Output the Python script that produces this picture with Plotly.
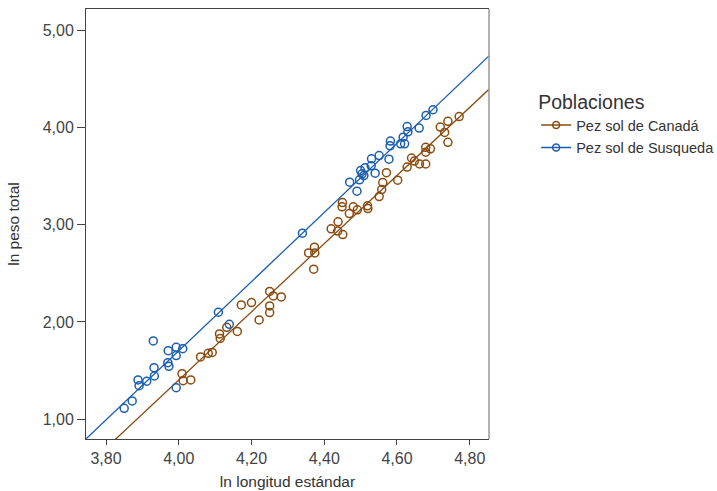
import numpy as np
import plotly.graph_objects as go

# ---- data ----
canada_x = [4.009, 4.012, 4.033, 4.060, 4.081, 4.092, 4.112, 4.114, 4.132, 4.161,
            4.172, 4.200, 4.221, 4.250, 4.260, 4.282, 4.250, 4.250, 4.357, 4.373,
            4.374, 4.371, 4.419, 4.438, 4.437, 4.451, 4.450, 4.449, 4.480, 4.469,
            4.491, 4.519, 4.520, 4.551, 4.558, 4.561, 4.571, 4.602, 4.628, 4.640,
            4.648, 4.662, 4.679, 4.679, 4.679, 4.692, 4.719, 4.731, 4.740, 4.740,
            4.771]
canada_y = [1.467, 1.395, 1.402, 1.639, 1.677, 1.686, 1.876, 1.830, 1.945, 1.902,
            2.175, 2.199, 2.021, 2.314, 2.268, 2.258, 2.165, 2.096, 2.711, 2.770,
            2.711, 2.543, 2.959, 3.031, 2.936, 2.900, 3.230, 3.186, 3.186, 3.117,
            3.155, 3.196, 3.168, 3.292, 3.364, 3.436, 3.538, 3.461, 3.596, 3.689,
            3.657, 3.627, 3.627, 3.749, 3.799, 3.784, 4.008, 3.952, 4.067, 3.851,
            4.116]

susqueda_x = [3.850, 3.872, 3.888, 3.891, 3.912, 3.930, 3.932, 3.933, 3.970, 3.973,
              3.971, 3.993, 3.993, 4.011, 3.993, 4.109, 4.139, 4.340, 4.470, 4.490,
              4.497, 4.500, 4.504, 4.509, 4.512, 4.529, 4.530, 4.540, 4.551, 4.578,
              4.581, 4.582, 4.610, 4.621, 4.617, 4.628, 4.630, 4.661, 4.680, 4.699]
susqueda_y = [1.110, 1.186, 1.402, 1.343, 1.389, 1.804, 1.529, 1.443, 1.580, 1.543,
              1.704, 1.739, 1.653, 1.725, 1.323, 2.100, 1.976, 2.914, 3.440, 3.347,
              3.464, 3.560, 3.526, 3.508, 3.588, 3.608, 3.680, 3.533, 3.714, 3.677,
              3.814, 3.863, 3.835, 3.835, 3.904, 4.013, 3.959, 3.997, 4.127, 4.186]

series_names = ["Pez sol de Canadá", "Pez sol de Susqueda"]
series_colors = ["#8a4b0f", "#1a5eb0"]

x_tick_vals = [3.8, 4.0, 4.2, 4.4, 4.6, 4.8]
y_tick_vals = [1, 2, 3, 4, 5]

X_RANGE = [3.745, 4.853]
Y_RANGE = [0.794, 5.224]

fig = go.Figure()

datasets = [(canada_x, canada_y), (susqueda_x, susqueda_y)]
legend_ids = ["legend", "legend2"]
for (xs, ys), name, color, lg in zip(datasets, series_names, series_colors, legend_ids):
    xs = np.array(xs)
    ys = np.array(ys)
    slope, intercept = np.polyfit(xs, ys, 1)
    lx = np.array(X_RANGE)
    ly = intercept + slope * lx
    # fit line
    fig.add_trace(go.Scatter(x=lx, y=ly, mode="lines",
                             line=dict(color=color, width=1.3),
                             showlegend=False, hoverinfo="skip"))
    # points
    fig.add_trace(go.Scatter(x=xs, y=ys, mode="markers",
                             marker=dict(symbol="circle-open", size=8,
                                         color=color, line=dict(width=1.5)),
                             showlegend=False, name=name))
    # legend entry (line + marker)
    fig.add_trace(go.Scatter(x=[None], y=[None], mode="lines+markers",
                             line=dict(color=color, width=1.5),
                             marker=dict(symbol="circle-open", size=7,
                                         color=color, line=dict(width=1.5)),
                             name=name, showlegend=True, legend=lg))

axis_common = dict(showgrid=False, zeroline=False, showline=True,
                   linecolor="#444", linewidth=1,
                   ticks="outside", tickcolor="#444", automargin=False,
                   tickfont=dict(family="Arial", size=16, color="#444"))

LEGEND_X = 1.117
legend_font = dict(family="Arial", size=14.5, color="#333")

fig.update_layout(
    width=717, height=491,
    margin=dict(l=86, r=228, t=9, b=52, autoexpand=False),
    paper_bgcolor="white", plot_bgcolor="white",
    separators=",.",
    font=dict(family="Arial", color="#333"),
    xaxis=dict(range=X_RANGE, tickvals=x_tick_vals, tickformat=".2f", ticklen=5,
               mirror=True,
               title=dict(text="ln longitud estándar",
                          font=dict(family="Arial", size=15.5, color="#333"),
                          standoff=9),
               **axis_common),
    yaxis=dict(range=Y_RANGE, tickvals=y_tick_vals, tickformat=".2f", ticklen=8,
               mirror=False,
               title=dict(text="ln peso total",
                          font=dict(family="Arial", size=15.5, color="#333"),
                          standoff=19),
               **axis_common),
    shapes=[dict(type="line", xref="paper", yref="paper", x0=1, x1=1, y0=0, y1=1,
                 line=dict(color="#999", width=1.5), layer="above")],
    legend=dict(x=LEGEND_X, y=0.826, xanchor="left", yanchor="top",
                title=dict(text="Poblaciones",
                           font=dict(family="Arial", size=19.5, color="#333")),
                font=legend_font,
                bgcolor="rgba(0,0,0,0)", borderwidth=0),
    legend2=dict(x=LEGEND_X, y=0.678, xanchor="left", yanchor="middle",
                 font=legend_font,
                 bgcolor="rgba(0,0,0,0)", borderwidth=0),
)

# remove the default page margin so the 717x491 figure fills the window exactly
fig.write_html("out.html",
               config={"displayModeBar": False},
               post_script="document.body.style.margin='0';"
                           "document.body.style.overflow='hidden';")
